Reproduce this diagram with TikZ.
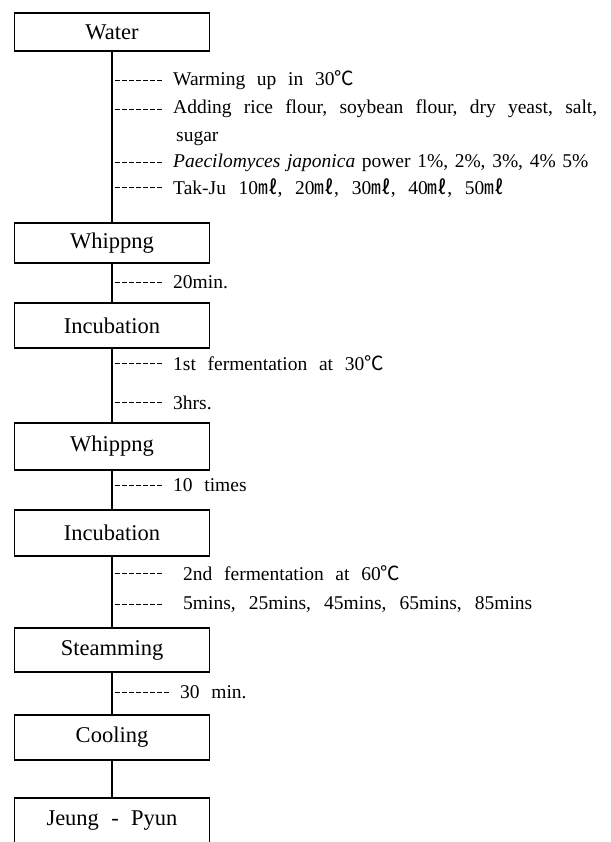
\documentclass[tikz,border=0pt]{standalone}
\usepackage{fontspec}
\setmainfont{Liberation Serif}
\newfontfamily\cjk{Noto Sans CJK KR}
\usepackage{tikz}
\newcommand{\tempC}{{\cjk ℃}}
\newcommand{\mlunit}{{\cjk ㎖}}

\begin{document}
\begin{tikzpicture}[x=1pt,y=1pt,
  stage/.style={draw=black,line width=1.3pt,minimum width=195pt,inner sep=0pt,
    font={\fontsize{22.5}{27}\selectfont\spaceskip=0.55em plus 0.3em minus 0.2em\relax}},
  note/.style={anchor=mid west,inner sep=0pt,
    font={\fontsize{19.5}{23}\selectfont\spaceskip=0.6em plus 0.3em minus 0.2em\relax}},
  trunk/.style={line width=1.3pt},
  tick/.style={line width=0.8pt,dash pattern=on 4.7pt off 2.3pt,shorten <=3pt,shorten >=11pt}]
\useasboundingbox (0,0) rectangle (610,-842);
\clip (0,0) rectangle (610,-842);
\node[stage,minimum height=38pt] (water) at (112,-32) {Water};
\node[stage,minimum height=40pt] (whipA) at (112,-243) {Whippng};
\node[stage,minimum height=45pt] (incA) at (112,-325.5) {Incubation};
\node[stage,minimum height=47pt] (whipB) at (112,-446.5) {Whippng};
\node[stage,minimum height=46pt] (incB) at (112,-533) {Incubation};
\node[stage,minimum height=44pt] (steam) at (112,-650) {Steamming};
\node[stage,minimum height=45pt] (cool) at (112,-737.5) {Cooling};
\node[stage,minimum height=46pt] (jp) at (112,-821) {Jeung - Pyun};
\draw [trunk] (water) -- (whipA);
\draw [trunk] (whipA) -- (incA);
\draw [trunk] (incA) -- (whipB);
\draw [trunk] (whipB) -- (incB);
\draw [trunk] (incB) -- (steam);
\draw [trunk] (steam) -- (cool);
\draw [trunk] (cool) -- (jp);
\node[note] (warm) at (173,-83) {Warming up in 30\tempC};
\node[note,anchor=base west] (add) at (173,-113.4) {\parbox[t]{424pt}{\baselineskip=28pt\makebox[424pt][s]{Adding rice flour, soybean flour, dry yeast, salt,}\\\hspace*{3pt}sugar}};
\coordinate (addmid) at ([yshift=4.4pt]add.base west);
\node[note] (pae) at (173,-165) {\spaceskip=0.34em\textit{Paecilomyces japonica} power 1\%, 2\%, 3\%, 4\% 5\%};
\node[note] (tak) at (173,-192) {\spaceskip=0.65em Tak-Ju 10\mlunit, 20\mlunit, 30\mlunit, 40\mlunit, 50\mlunit};
\node[note] (whipt) at (173,-286) {20min.};
\node[note] (ferm1) at (173,-368) {1st fermentation at 30\tempC};
\node[note] (hrs) at (173,-407) {3hrs.};
\node[note] (times) at (173,-489) {10 times};
\node[note] (ferm2) at (183,-578) {2nd fermentation at 60\tempC};
\node[note] (mins) at (183,-607) {\spaceskip=0.67em 5mins, 25mins, 45mins, 65mins, 85mins};
\node[note] (steamt) at (180,-696) {30 min.};
\draw [tick] (water.south |- warm.west) -- (warm.west);
\draw [tick] (water.south |- addmid) -- (addmid);
\draw [tick] (water.south |- pae.west) -- (pae.west);
\draw [tick] (water.south |- tak.west) -- (tak.west);
\draw [tick] (whipA.south |- whipt.west) -- (whipt.west);
\draw [tick] (incA.south |- ferm1.west) -- (ferm1.west);
\draw [tick] (incA.south |- hrs.west) -- (hrs.west);
\draw [tick] (whipB.south |- times.west) -- (times.west);
\draw [tick,shorten >=21pt] (incB.south |- ferm2.west) -- (ferm2.west);
\draw [tick,shorten >=21pt] (incB.south |- mins.west) -- (mins.west);
\draw [tick] (steam.south |- steamt.west) -- (steamt.west);
\end{tikzpicture}
\end{document}
